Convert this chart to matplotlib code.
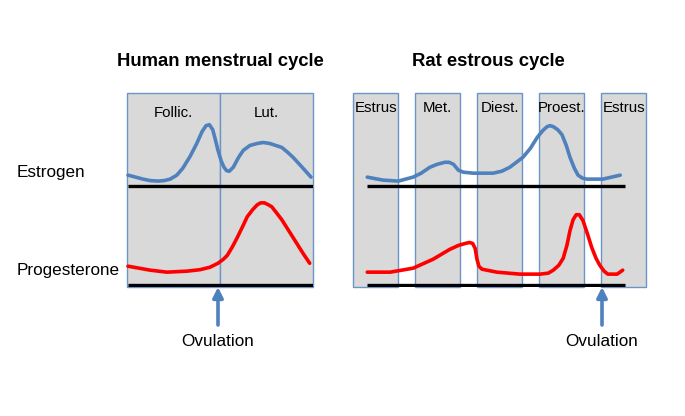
import matplotlib.pyplot as plt
from matplotlib.patches import Rectangle

plt.rcParams['font.family'] = ['Liberation Sans', 'DejaVu Sans']

W, H = 685, 416

# human cycle, x in days (0-28), levels relative to lane baseline
human_phases = ['Follic.', 'Lut.']
human_phase_start = [0, 14]
human_phase_len = [14, 14]

human_e_day = [0.15, 1.3, 2.4, 3.5, 4.7, 5.6, 6.5, 7.5, 8.4, 9.5, 10.5, 11.3, 11.9,
               12.4, 12.9, 13.3, 13.7, 14.2, 14.6, 15.0, 15.4, 16.0, 16.8, 17.5, 18.5,
               19.6, 20.5, 21.5, 22.4, 23.3, 24.2, 25.0, 26.5, 27.7]
human_e_lvl = [0.11, 0.09, 0.07, 0.055, 0.05, 0.055, 0.07, 0.11, 0.18, 0.30, 0.43, 0.55,
               0.61, 0.62, 0.57, 0.47, 0.36, 0.25, 0.19, 0.155, 0.15, 0.19, 0.29, 0.36,
               0.41, 0.43, 0.44, 0.43, 0.41, 0.39, 0.34, 0.29, 0.18, 0.09]

human_p_day = [0.15, 3.5, 6.0, 9.0, 11.0, 12.5, 13.7, 14.5, 15.1, 15.9, 16.6, 17.4,
               18.1, 18.9, 19.6, 20.1, 20.7, 21.3, 21.8, 22.5, 23.3, 25.0, 26.5, 27.5]
human_p_lvl = [0.19, 0.15, 0.13, 0.14, 0.155, 0.18, 0.22, 0.26, 0.30, 0.39, 0.48, 0.59,
               0.69, 0.76, 0.81, 0.83, 0.83, 0.81, 0.79, 0.73, 0.66, 0.48, 0.32, 0.22]

# rat cycle, x in phase units (one phase = 1)
rat_phases = ['Estrus', 'Met.', 'Diest.', 'Proest.', 'Estrus']
rat_phase_start = [0, 1, 2, 3, 4]
rat_box_w = 0.73

rat_e_t = [0.23, 0.48, 0.73, 0.97, 1.10, 1.24, 1.36, 1.48, 1.55, 1.62, 1.70, 1.78,
           1.94, 2.26, 2.40, 2.53, 2.74, 2.86, 2.97, 3.06, 3.13, 3.18, 3.23, 3.30,
           3.37, 3.44, 3.50, 3.57, 3.63, 3.70, 3.77, 4.03, 4.31]
rat_e_lvl = [0.09, 0.06, 0.05, 0.09, 0.13, 0.19, 0.22, 0.24, 0.24, 0.22, 0.16, 0.14,
             0.13, 0.13, 0.15, 0.19, 0.29, 0.38, 0.49, 0.56, 0.60, 0.61, 0.60, 0.57,
             0.52, 0.41, 0.29, 0.18, 0.11, 0.08, 0.07, 0.07, 0.11]

rat_p_t = [0.23, 0.60, 0.97, 1.29, 1.56, 1.70, 1.81, 1.88, 1.93, 1.97, 2.00, 2.03,
           2.08, 2.32, 2.69, 3.02, 3.15, 3.23, 3.32, 3.39, 3.45, 3.50, 3.55, 3.60,
           3.65, 3.71, 3.78, 3.85, 3.92, 3.98, 4.05, 4.11, 4.26, 4.35]
rat_p_lvl = [0.13, 0.13, 0.17, 0.26, 0.36, 0.40, 0.42, 0.43, 0.42, 0.37, 0.26, 0.19,
             0.16, 0.13, 0.11, 0.11, 0.12, 0.15, 0.20, 0.27, 0.40, 0.55, 0.66, 0.71,
             0.71, 0.65, 0.52, 0.38, 0.27, 0.20, 0.14, 0.11, 0.11, 0.15]

blue = '#4f81bd'
edge = '#6b95c9'
fill = '#d9d9d9'
red = '#ff0000'


def px(x, y):
    return x / W, 1 - y / H


def panel(x0, x1, xmax):
    l, b = px(x0, 287)
    r, t = px(x1, 93)
    ax = fig.add_axes([l, b, r - l, t - b])
    ax.set_xlim(0, xmax)
    ax.set_ylim(-0.02, 1.94)
    ax.axis('off')
    return ax


fig = plt.figure(figsize=(W / 100, H / 100), dpi=100)

# human panel
ax1 = panel(127, 313, 28)
for s, w in zip(human_phase_start, human_phase_len):
    ax1.add_patch(Rectangle((s, -0.02), w, 1.96, facecolor=fill, edgecolor=edge,
                            lw=1, clip_on=False))
ax1.hlines([0, 1], 0.1, 28.1, color='black', lw=2.4, zorder=3)
ax1.plot(human_e_day, [1 + v for v in human_e_lvl], color=blue, lw=2.6,
         solid_joinstyle='round', solid_capstyle='round', zorder=4, clip_on=False)
ax1.plot(human_p_day, human_p_lvl, color=red, lw=2.6,
         solid_joinstyle='round', solid_capstyle='round', zorder=4, clip_on=False)
for s, w, lab in zip(human_phase_start, human_phase_len, human_phases):
    ax1.text(s + w / 2, 1.74, lab, ha='center', va='center', fontsize=10.8)

# rat panel
ax2 = panel(353, 648, 295 / 62)
for s in rat_phase_start:
    ax2.add_patch(Rectangle((s, -0.02), rat_box_w, 1.96, facecolor=fill, edgecolor=edge,
                            lw=1, clip_on=False))
ax2.hlines([0, 1], 0.23, 4.39, color='black', lw=2.4, zorder=3)
ax2.plot(rat_e_t, [1 + v for v in rat_e_lvl], color=blue, lw=2.6,
         solid_joinstyle='round', solid_capstyle='round', zorder=4, clip_on=False)
ax2.plot(rat_p_t, rat_p_lvl, color=red, lw=2.6,
         solid_joinstyle='round', solid_capstyle='round', zorder=4, clip_on=False)
for s, lab in zip(rat_phase_start, rat_phases):
    ax2.text(s + rat_box_w / 2, 1.79, lab, ha='center', va='center', fontsize=10.8)

# titles and row labels
fig.text(*px(220, 62), 'Human menstrual cycle', ha='center', va='center',
         fontsize=13.3, fontweight='bold')
fig.text(*px(488, 62), 'Rat estrous cycle', ha='center', va='center',
         fontsize=13.3, fontweight='bold')
fig.text(*px(17, 172), 'Estrogen', ha='left', va='center', fontsize=12.3)
fig.text(*px(17, 271), 'Progesterone', ha='left', va='center', fontsize=12.3)

# ovulation arrows
for x in [218, 602]:
    fig.add_artist(plt.Annotation('', xy=px(x, 287), xytext=px(x, 325),
                                  xycoords='figure fraction', textcoords='figure fraction',
                                  arrowprops=dict(arrowstyle='-|>', color=blue, lw=2.6,
                                                  mutation_scale=15, shrinkA=0, shrinkB=0)))
    fig.text(*px(x, 342), 'Ovulation', ha='center', va='center', fontsize=12.3)

fig.savefig('out.png', dpi=100)
